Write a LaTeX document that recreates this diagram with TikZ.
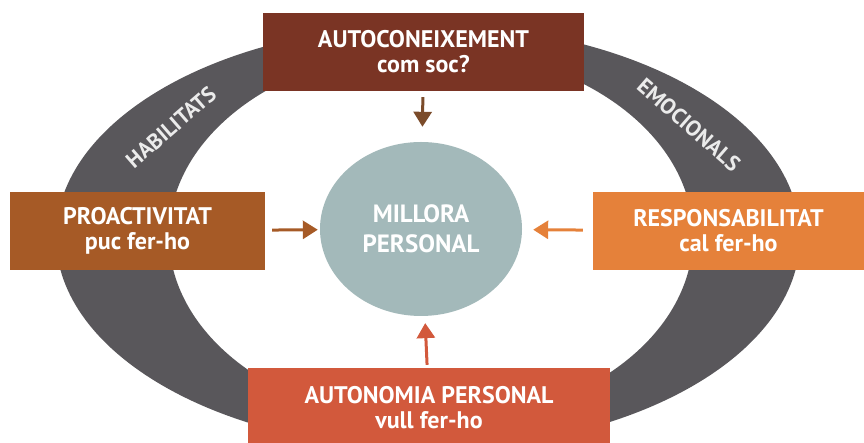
\documentclass[tikz,border=0pt]{standalone}
\usepackage{fontspec}
\setmainfont{PT Sans}
\usepackage{tikz}
\usetikzlibrary{shapes.geometric}
\usetikzlibrary{arrows.meta}

\definecolor{bandgray}{HTML}{59575B}
\definecolor{autocol}{HTML}{7A3424}
\definecolor{proacol}{HTML}{A65A26}
\definecolor{respcol}{HTML}{E5813A}
\definecolor{autncol}{HTML}{D2593C}
\definecolor{goalcol}{HTML}{A3B9BA}
\definecolor{arrowbrown}{HTML}{7B4B2A}

\begin{document}
\begin{tikzpicture}[x=1pt,y=1pt,
  box/.style={minimum height=78pt,inner sep=0pt,align=center,text=white,font=\bfseries\fontsize{24}{25}\selectfont},
  ringtext/.style={text=white!92!black,font=\bfseries\fontsize{22}{22}\selectfont},
  push/.style={line width=3pt,-{Triangle[length=15pt,width=18pt]}}]
\useasboundingbox (0,0) rectangle (864,443);
\clip (0,0) rectangle (864,443);
% gray ring behind everything
\fill[bandgray,even odd rule] (428,206) ellipse [x radius=372,y radius=212] (431,207) ellipse [x radius=262,y radius=187];
\node[ringtext,rotate=41] (habil) at (171,316) {HABILITATS};
\node[ringtext,rotate=-41] (emoc) at (689,318) {EMOCIONALS};

\node[ellipse,fill=goalcol,minimum width=202pt,minimum height=174pt,inner sep=0pt,align=center,text=white,font=\bfseries\fontsize{25}{30}\selectfont] (millora) at (421,214) {MILLORA\\PERSONAL};

\node[box,fill=autocol,minimum width=321pt] (autocon) at (423.5,391) {AUTOCONEIXEMENT\\com soc?};
\node[box,fill=proacol,minimum width=255pt] (proact) at (137.5,212) {PROACTIVITAT\\puc fer-ho};
\node[box,fill=respcol,minimum width=271pt] (resp) at (728.5,212) {RESPONSABILITAT\\cal fer-ho};
\node[box,fill=autncol,minimum width=362pt,minimum height=80pt] (auton) at (429,35) {AUTONOMIA PERSONAL\\vull fer-ho};

\draw[push,arrowbrown,shorten <=6pt,shorten >=15pt] (autocon) -- (millora);
\draw[push,proacol,shorten <=7pt,shorten >=2pt] (proact) -- (millora);
\draw[push,respcol,shorten <=10pt,shorten >=11pt] (resp) -- (millora);
\draw[push,autncol,shorten <=3pt,shorten >=7pt] (auton) -- (millora);
\end{tikzpicture}
\end{document}
